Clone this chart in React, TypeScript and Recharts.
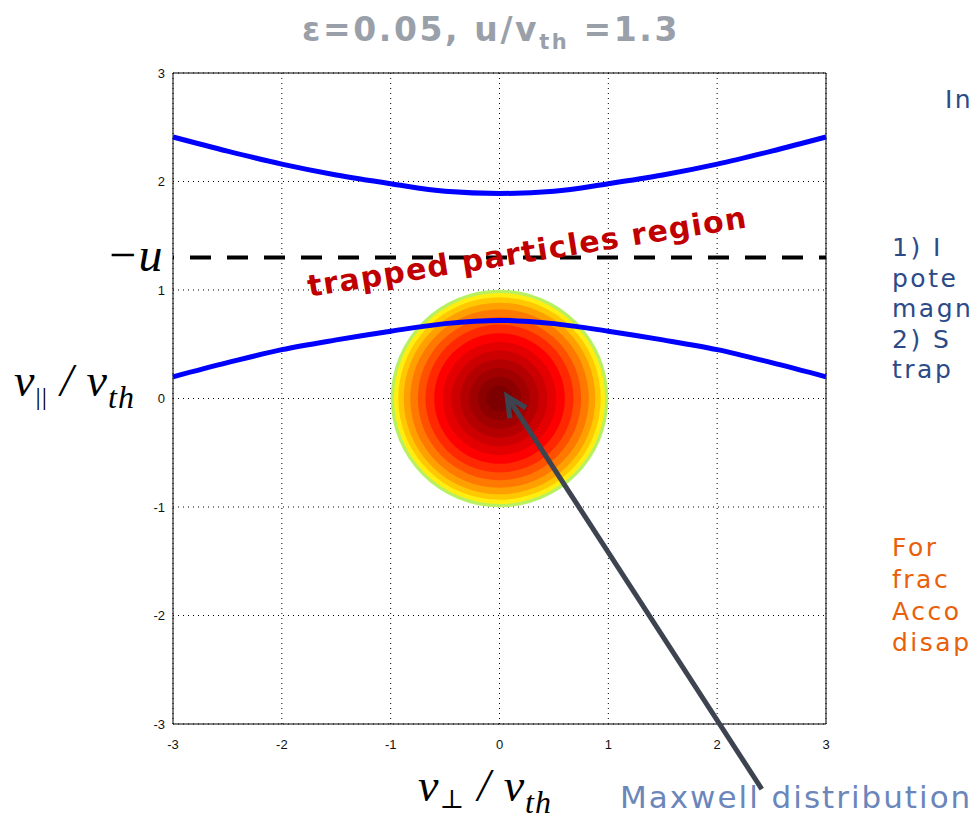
import React from "react";
import {
  ComposedChart,
  Line,
  Scatter,
  XAxis,
  YAxis,
  CartesianGrid,
  ReferenceLine,
} from "recharts";

// v_perp / v_th sample points and the two loss-cone boundaries
const vPerp = [-3, -2.5, -2, -1.5, -1, -0.5, 0, 0.5, 1, 1.5, 2, 2.5, 3];
const upperBoundary = [2.41, 2.28, 2.16, 2.06, 1.98, 1.91, 1.89, 1.91, 1.98, 2.06, 2.16, 2.28, 2.41];
const lowerBoundary = [0.2, 0.33, 0.45, 0.54, 0.62, 0.69, 0.72, 0.69, 0.62, 0.54, 0.45, 0.33, 0.2];

// -u level
const minusU = 1.3;

// Maxwell distribution centre and contour bands (radius in v/v_th, outer to inner)
const maxwellCentre = [{ x: 0, y: 0 }];
const ringRadii = [1.0, 0.97, 0.93, 0.88, 0.82, 0.75, 0.68, 0.6, 0.52, 0.44, 0.36, 0.28, 0.2, 0.12];
const ringColors = [
  "#b8f060", "#ffee10", "#ffc800", "#ffa000", "#ff7800", "#ff5000", "#ff2800",
  "#ff0000", "#e40000", "#cc0000", "#b40000", "#a00000", "#8c0000", "#7c0000",
];

const ticks = [-3, -2, -1, 0, 1, 2, 3];

// arrow from the label up to the distribution centre
const arrowSegment = [
  { x: 2.41, y: -3.6 },
  { x: 0.07, y: 0.02 },
];

const W = 977;
const H = 824;
const margin = { top: 73, right: 151, bottom: 0, left: 0 };
const Y_AXIS_W = 173;
const X_AXIS_H = 100;
const pxPerUnit = (W - margin.right - Y_AXIS_W) / 6;

const data = vPerp.map((x, i) => ({ x, upper: upperBoundary[i], lower: lowerBoundary[i] }));

const Rings = (props: any) => {
  const { cx, cy } = props;
  return (
    <g>
      {ringRadii.map((r, i) => (
        <circle key={i} cx={cx} cy={cy} r={r * pxPerUnit} fill={ringColors[i]} />
      ))}
    </g>
  );
};

const Arrow = (props: any) => {
  const { x1, y1, x2, y2 } = props;
  const ang = Math.atan2(y2 - y1, x2 - x1);
  const len = 22;
  const spread = 0.45;
  const a1x = x2 - len * Math.cos(ang - spread);
  const a1y = y2 - len * Math.sin(ang - spread);
  const a2x = x2 - len * Math.cos(ang + spread);
  const a2y = y2 - len * Math.sin(ang + spread);
  return (
    <g stroke="#3d4450" strokeWidth={5} fill="none">
      <line x1={x1} y1={y1} x2={x2} y2={y2} />
      <polyline points={`${a1x},${a1y} ${x2},${y2} ${a2x},${a2y}`} />
    </g>
  );
};

const tickStyle = { fontSize: 13, fill: "#111", fontFamily: "Liberation Sans, Arial, sans-serif" };

// shared axes so both stacked layers get the exact same plot area
const axes = (show: boolean) => [
  <XAxis
    key="x"
    type="number"
    dataKey="x"
    domain={[-3, 3]}
    ticks={ticks}
    height={X_AXIS_H}
    tick={show ? tickStyle : false}
    tickLine={false}
    tickSize={6}
    tickMargin={10}
    axisLine={show ? { stroke: "#000" } : false}
  />,
  <YAxis
    key="y"
    type="number"
    domain={[-3, 3]}
    ticks={ticks}
    width={Y_AXIS_W}
    tick={show ? tickStyle : false}
    tickLine={false}
    tickSize={6}
    tickMargin={2}
    axisLine={show ? { stroke: "#000" } : false}
  />,
];

const layer: React.CSSProperties = { position: "absolute", left: 0, top: 0 };

export default function App() {
  return (
    <div style={{ position: "absolute", left: 0, top: 0, width: W, height: H, background: "#fff" }}>
      {/* bottom layer: grid, frame and the Maxwell distribution */}
      <div style={layer}>
        <ComposedChart width={W} height={H} data={data} margin={margin}>
          <CartesianGrid stroke="#000" strokeDasharray="1 4" />
          {axes(true)}
          <Scatter
            data={maxwellCentre}
            dataKey="y"
            shape={Rings}
            isAnimationActive={false}
          />
          <ReferenceLine x={3} stroke="#000" />
          <ReferenceLine y={3} stroke="#000" />
        </ComposedChart>
      </div>

      {/* top layer: boundaries, -u level and arrow */}
      <div style={layer}>
        <ComposedChart width={W} height={H} data={data} margin={margin}>
          {axes(false)}
          <Line
            type="monotone"
            dataKey="upper"
            stroke="#0000ff"
            strokeWidth={5}
            dot={false}
            isAnimationActive={false}
          />
          <Line
            type="monotone"
            dataKey="lower"
            stroke="#0000ff"
            strokeWidth={5}
            dot={false}
            isAnimationActive={false}
          />
          <ReferenceLine
            y={minusU}
            stroke="#000"
            strokeWidth={4}
            strokeDasharray="21 16"
            strokeDashoffset={-17}
          />
          <ReferenceLine segment={arrowSegment} ifOverflow="visible" shape={Arrow} />
        </ComposedChart>
      </div>

      <svg
        width={W}
        height={H}
        style={{ position: "absolute", left: 0, top: 0, pointerEvents: "none", overflow: "hidden" }}
      >
        <text
          x={491}
          y={41}
          textAnchor="middle"
          fill="#9aa0a9"
          fontSize={33}
          fontWeight="bold"
          letterSpacing={2.6}
          fontFamily="DejaVu Sans, sans-serif"
        >
          ε=0.05, u/v<tspan fontSize={21} dy={8}>th</tspan>
          <tspan dy={-8}> =1.3</tspan>
        </text>

        <text
          x={529}
          y={262}
          textAnchor="middle"
          fill="#c00000"
          fontSize={30}
          fontWeight="bold"
          letterSpacing={1.4}
          fontFamily="DejaVu Sans, sans-serif"
          transform="rotate(-9 529 262)"
        >
          trapped particles region
        </text>

        <g fontFamily="Liberation Serif, DejaVu Serif, serif" fontStyle="italic" fill="#000">
          <text x={106} y={271} fontSize={48}>−u</text>
          <text x={14} y={396} fontSize={46} letterSpacing={1}>
            v<tspan fontSize={26} fontStyle="normal" dy={9}>||</tspan>
            <tspan dy={-9}> / v</tspan>
            <tspan fontSize={32} dy={12}>th</tspan>
          </text>
          <text x={418} y={801} fontSize={46} letterSpacing={1}>
            v<tspan fontSize={26} fontStyle="normal" dy={7}>⊥</tspan>
            <tspan dy={-7}> / v</tspan>
            <tspan fontSize={32} dy={12}>th</tspan>
          </text>
        </g>

        <g fontFamily="DejaVu Sans, sans-serif" fontSize={25} letterSpacing={2.5} fill="#2c4a87">
          <text x={945} y={108}>In</text>
          <text x={892} y={256}>1)  I</text>
          <text x={892} y={287}>pote</text>
          <text x={892} y={317}>magn</text>
          <text x={892} y={348}>2)  S</text>
          <text x={892} y={378}>trap</text>
        </g>
        <g fontFamily="DejaVu Sans, sans-serif" fontSize={25} letterSpacing={2.5} fill="#e8600a">
          <text x={892} y={556}>For</text>
          <text x={892} y={588}>frac</text>
          <text x={892} y={620}>Acco</text>
          <text x={892} y={651}>disap</text>
        </g>
        <text
          x={620}
          y={808}
          fontFamily="DejaVu Sans, sans-serif"
          fontSize={31}
          letterSpacing={2}
          fill="#6b86bb"
        >
          Maxwell distribution
        </text>
      </svg>
    </div>
  );
}
